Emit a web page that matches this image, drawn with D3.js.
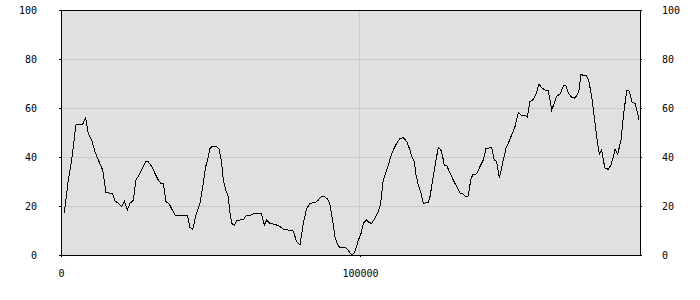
<!DOCTYPE html>
<html>
<head>
<meta charset="utf-8">
<script src="https://cdn.jsdelivr.net/npm/d3@7"></script>
<style>
  body { margin: 0; background: #fff; }
  .axis text { font-family: "DejaVu Sans Mono", monospace; font-size: 10px; fill: #000; }
  .axis path, .axis line { stroke: #000; }
  .grid line { stroke: #cbcbcb; }
</style>
</head>
<body>
<svg id="chart" width="700" height="300"></svg>
<script>
// x positions (data units)
const xs = [1104, 2441, 3579, 4916, 5017, 7124, 8261, 9130, 10268, 11371, 12475, 13946, 15050, 17157,
  18060, 19164, 20301, 21171, 22174, 23077, 24181, 25084, 26421, 27525, 28428, 29197, 30334, 31438,
  32542, 33344, 34214, 35117, 36221, 37224, 38127, 42241, 43144, 44047, 45151, 46488, 47592, 48395,
  49064, 49833, 50401, 52074, 52943, 53746, 54281, 55084, 55953, 56522, 57090, 57960, 58763, 59866,
  60970, 61773, 63211, 64883, 66890, 67458, 67993, 68796, 69900, 71572, 73244, 74348, 76020, 77692,
  78829, 79933, 81037, 82174, 83278, 84950, 86054, 86957, 88060, 89197, 89967, 90736, 91639, 92542,
  93311, 94983, 95886, 96656, 97224, 98094, 98662, 99431, 100234, 101104, 102241, 103110, 103913,
  105017, 106120, 106923, 107793, 108696, 109465, 110268, 111137, 112274, 113378, 114482, 115619,
  116722, 117291, 118161, 118729, 119498, 120301, 121171, 122843, 123411, 124515, 125418, 126187,
  126990, 127659, 128194, 128997, 129866, 131204, 132341, 133445, 134548, 135351, 136221, 137023,
  137692, 139030, 140134, 141237, 142140, 144047, 144916, 145719, 146622, 147926, 148829, 149599,
  150736, 151839, 152943, 153846, 155184, 155953, 156856, 157759, 158763, 159866, 160769, 161873,
  162977, 164114, 164983, 165786, 166890, 167993, 168796, 169666, 170803, 171672, 172475, 173244,
  173913, 174682, 175819, 176589, 177492, 178361, 179164, 180033, 180836, 181371, 181940, 183043,
  183946, 184716, 185284, 186187, 187291, 188060, 189197, 189967, 191070, 191973, 192876, 193311];

const values = [17.0, 30.6, 38.8, 52.4, 53.1, 53.1, 56.0, 49.7, 46.9, 42.2, 38.8, 34.7, 25.4, 25.2,
  22.0, 21.1, 19.7, 22.0, 18.4, 21.1, 22.4, 30.6, 33.3, 36.1, 38.4, 38.1, 36.1, 33.3,
  30.6, 29.3, 29.3, 21.8, 20.7, 18.4, 16.3, 16.3, 11.2, 10.5, 16.3, 21.1, 29.3, 36.1,
  38.8, 43.5, 44.2, 44.2, 43.1, 37.4, 30.6, 26.5, 23.8, 17.0, 12.9, 12.2, 14.0, 14.3,
  14.3, 15.9, 16.2, 17.0, 17.0, 15.0, 12.2, 14.3, 12.9, 12.5, 11.6, 10.5, 10.2, 9.8,
  5.4, 4.1, 12.9, 19.0, 21.1, 21.4, 22.4, 23.8, 23.8, 22.9, 20.4, 15.0, 7.5, 4.1,
  3.1, 3.1, 2.3, 0.7, 0.0, 0.8, 2.7, 6.1, 8.2, 12.9, 14.3, 13.2, 12.9,
  15.0, 17.7, 21.1, 30.6, 34.0, 36.7, 40.1, 42.9, 45.6, 47.6, 47.9, 46.3,
  42.9, 40.1, 38.1, 32.7, 28.6, 25.8, 21.1, 21.5, 23.8, 32.0, 38.8, 43.8,
  43.1, 40.1, 36.5, 36.7, 34.0, 30.6, 27.9, 25.2, 24.9, 23.8, 24.1, 30.6,
  32.7, 33.1, 36.1, 38.8, 43.5, 43.8, 38.8, 38.1, 31.3, 38.8, 43.5, 45.6,
  49.0, 52.4, 58.1, 57.1, 57.1, 56.4, 62.6, 63.3, 65.3, 69.8, 68.3, 67.3,
  67.1, 59.2, 61.9, 64.9, 65.6, 69.0, 69.4, 66.0, 64.4, 64.0, 64.9, 67.3,
  73.9, 73.2, 73.1, 70.7, 64.6, 56.4, 48.3, 41.2, 43.1, 38.8, 35.4, 35.0,
  36.7, 40.1, 43.1, 41.2, 46.9, 56.4, 67.1, 67.1, 62.2, 61.9, 57.8, 55.1];

const yTicks = [0, 20, 40, 60, 80, 100];
const xTicks = [0, 100000];
const xMax = 193650;

const margin = { left: 61, right: 60, top: 10, bottom: 45 };
const width = 700 - margin.left - margin.right;
const height = 300 - margin.top - margin.bottom;

const svg = d3.select("#chart");
const g = svg.append("g").attr("transform", `translate(${margin.left},${margin.top})`);

const x = d3.scaleLinear().domain([0, xMax]).range([0, width]);
const y = d3.scaleLinear().domain([0, 100]).range([height, 0]);

// plot background
g.append("rect")
  .attr("width", width)
  .attr("height", height)
  .attr("fill", "#e0e0e0");

// gridlines
const grid = g.append("g").attr("class", "grid").attr("shape-rendering", "crispEdges");
grid.selectAll(".hg")
  .data(yTicks.filter(d => d > 0 && d < 100))
  .enter().append("line")
  .attr("x1", 0).attr("x2", width)
  .attr("y1", d => y(d)).attr("y2", d => y(d));
grid.selectAll(".vg")
  .data(xTicks.filter(d => d > 0))
  .enter().append("line")
  .attr("y1", 0).attr("y2", height)
  .attr("x1", d => x(d)).attr("x2", d => x(d));

// the series
const data = xs.map((d, i) => ({ x: d, v: values[i] }));
const line = d3.line().x(d => x(d.x)).y(d => y(d.v));
g.append("path")
  .datum(data)
  .attr("fill", "none")
  .attr("stroke", "#000")
  .attr("stroke-width", 1)
  .attr("shape-rendering", "crispEdges")
  .attr("d", line);

// axes
g.append("g").attr("class", "axis")
  .attr("shape-rendering", "crispEdges")
  .call(d3.axisLeft(y).tickValues(yTicks).tickSize(2).tickSizeOuter(0).tickPadding(22));

g.append("g").attr("class", "axis")
  .attr("transform", `translate(${width},0)`)
  .attr("shape-rendering", "crispEdges")
  .call(d3.axisRight(y).tickValues(yTicks).tickSize(2).tickSizeOuter(0).tickPadding(20));

g.append("g").attr("class", "axis")
  .attr("transform", `translate(0,${height})`)
  .attr("shape-rendering", "crispEdges")
  .call(d3.axisBottom(x).tickValues(xTicks).tickFormat(d3.format("d")).tickSize(2).tickSizeOuter(0).tickPadding(13));

// top border
g.append("line")
  .attr("x1", 0).attr("x2", width)
  .attr("y1", 0).attr("y2", 0)
  .attr("stroke", "#000")
  .attr("shape-rendering", "crispEdges");
</script>
</body>
</html>
